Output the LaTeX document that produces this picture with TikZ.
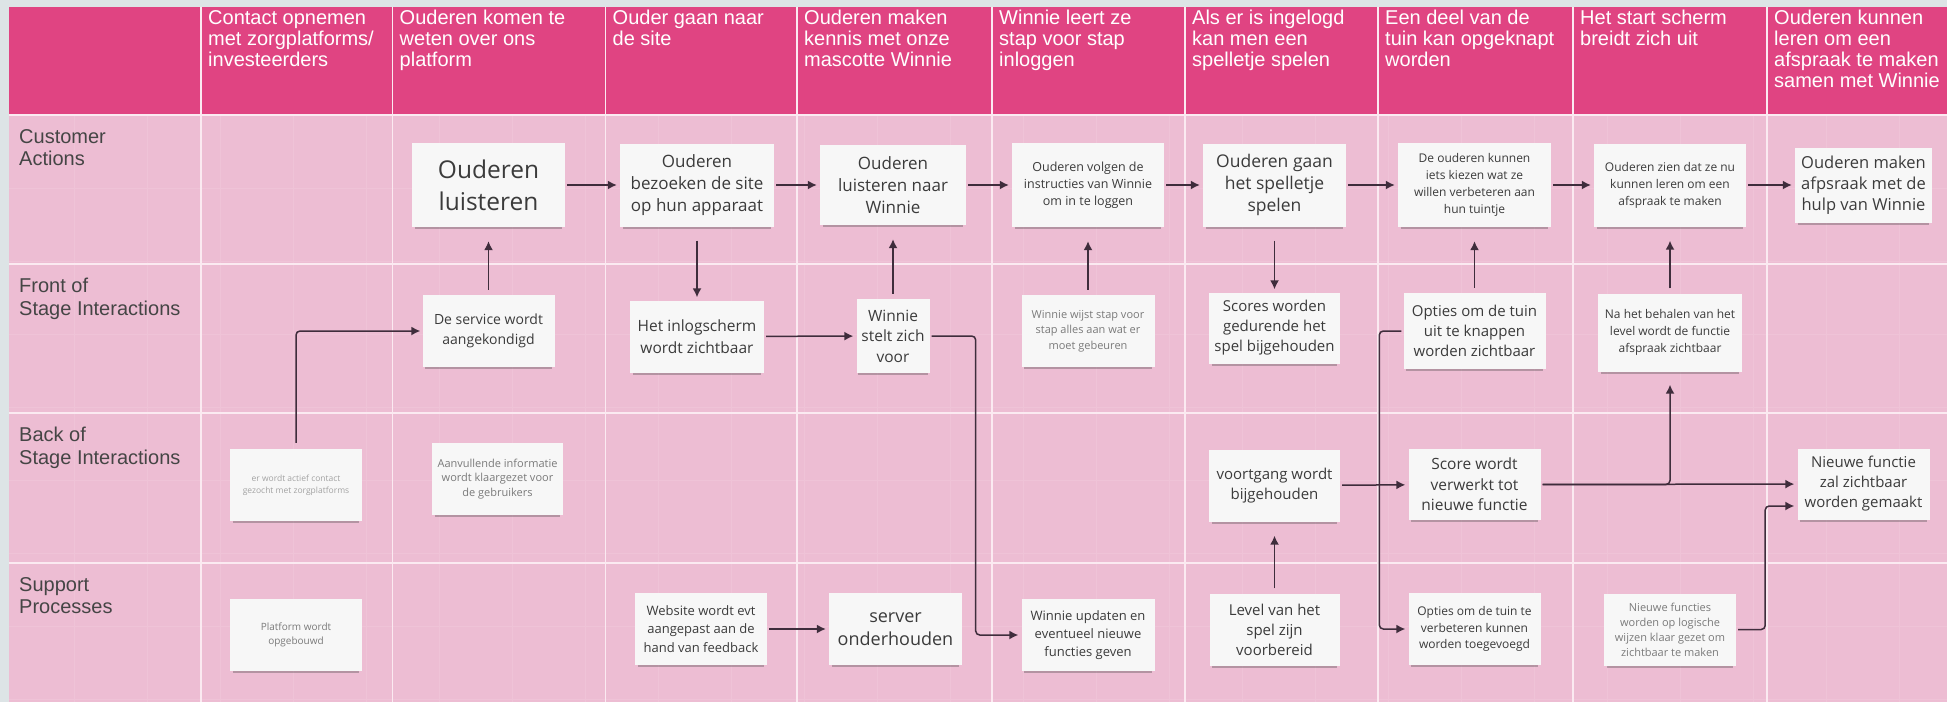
\documentclass[tikz,border=0pt]{standalone}
\usepackage{fontspec}
\setmainfont{Open Sans}
\newfontfamily\arialfont{Liberation Sans}
\usetikzlibrary{shapes,arrows.meta,shadows,positioning}

\definecolor{boardgray}{HTML}{DDE4E6}
\definecolor{headpink}{HTML}{E04482}
\definecolor{lanepink}{HTML}{EDBDD3}
\definecolor{lanewhite}{HTML}{FBEAF1}
\definecolor{gridpink}{HTML}{EFC3D7}
\definecolor{notefill}{HTML}{F7F7F7}
\definecolor{notetext}{HTML}{3B3B3B}
\definecolor{softtext}{HTML}{7A7A7A}
\definecolor{labeltext}{HTML}{454545}
\definecolor{flowcol}{HTML}{3F2D3C}

\newcommand{\setfs}[2]{\fontsize{#1pt}{#2pt}\selectfont}

\tikzstyle{note} = [rectangle, fill=notefill, text=notetext, align=center,
    inner sep=0pt, minimum width=132pt, minimum height=72pt,
    drop shadow={shadow xshift=0pt, shadow yshift=-4pt, shadow scale=0.96,
    fill=black!80, opacity=0.3}]
\tikzstyle{bignote} = [note, minimum width=152pt, minimum height=83pt]
\tikzstyle{softnote} = [note, text=softtext]
\tikzstyle{headtext} = [anchor=north west, align=left, inner sep=0pt,
    text=white, font=\arialfont\setfs{20}{21}]
\tikzstyle{lanelabel} = [anchor=north west, align=left, inner sep=0pt,
    text=labeltext, font=\arialfont\setfs{20}{22.7}]
\tikzstyle{flow} = [draw=flowcol, line width=1.5pt, ->, rounded corners=4pt]
\tikzstyle{hflow} = [flow, shorten <=2pt, shorten >=3pt]
\tikzstyle{upflow} = [flow, shorten <=5pt, shorten >=14pt]
\tikzstyle{downflow} = [flow, shorten <=14pt, shorten >=3pt]
\tikzstyle{laneline} = [draw=lanewhite, line width=1.8pt]
\tikzstyle{gridline} = [draw=gridpink, line width=0.6pt]

\begin{document}
\begin{tikzpicture}[x=1pt, y=-1pt, node distance=147pt,
    >={Latex[length=9pt, width=9pt]}]
    % The board and its lanes
    \useasboundingbox (0,0) rectangle (1947,702);
    \fill[boardgray] (0,0) rectangle (1947,702);
    \fill[lanepink] (9,7) rectangle (1947,702);
    \fill[headpink] (9,7) rectangle (1947,115);
    \foreach \gx in {74,147,...,1947}
        \draw[gridline] (\gx,116) -- (\gx,702);
    \foreach \gy in {188,261,...,702}
        \draw[gridline] (9,\gy) -- (1947,\gy);
    \foreach \ly in {115,264,413,563}
        \draw[laneline] (9,\ly) -- (1947,\ly);
    \foreach \lx in {201,392.5,605.5,797,992,1185,1378,1573,1767}
        \draw[laneline] (\lx,7) -- (\lx,702);

    % Phases along the top
    \foreach \hx/\htxt [count=\i] in {
        201/{Contact opnemen\\met zorgplatforms/\\investeerders},
        392.5/{Ouderen komen te\\weten over ons\\platform},
        605.5/{Ouder gaan naar\\de site},
        797/{Ouderen maken\\kennis met onze\\mascotte Winnie},
        992/{Winnie leert ze\\stap voor stap\\inloggen},
        1185/{Als er is ingelogd\\kan men een\\spelletje spelen},
        1378/{Een deel van de\\tuin kan opgeknapt\\worden},
        1573/{Het start scherm\\breidt zich uit},
        1767/{Ouderen kunnen\\leren om een\\afspraak te maken\\samen met Winnie}} {
        \node[headtext] (head\i) at (\hx+7,10) {\htxt};
    }

    % Lane names
    \node[lanelabel] (lane1) at (19,129) {Customer\\Actions};
    \node[lanelabel] (lane2) at (19,278) {Front of\\Stage Interactions};
    \node[lanelabel] (lane3) at (19,427) {Back of\\Stage Interactions};
    \node[lanelabel] (lane4) at (19,577) {Support\\Processes};

    % Customer actions, placed from left to right
    \node[bignote, minimum width=153pt, minimum height=84pt,
        font=\setfs{24.5}{32}] (luist) at (488.5,185) {Ouderen\\luisteren};
    \node[bignote, minimum width=154pt, node distance=208.5pt, right of=luist,
        font=\setfs{17}{22}] (bezoek) {Ouderen\\bezoeken de site\\op hun apparaat};
    \node[bignote, minimum width=146pt, minimum height=80pt, node distance=196pt,
        right of=bezoek, font=\setfs{17}{22}] (winnie) {Ouderen\\luisteren naar\\Winnie};
    \node[bignote, minimum height=84pt, node distance=195pt, right of=winnie,
        font=\setfs{12.5}{17}] (volgen) {Ouderen volgen de\\instructies van Winnie\\om in te loggen};
    \node[bignote, minimum width=143pt, node distance=186.5pt, right of=volgen,
        font=\setfs{17.5}{22}] (gaan) {Ouderen gaan\\het spelletje\\spelen};
    \node[bignote, minimum width=153pt, minimum height=84pt, node distance=200pt,
        right of=gaan, font=\setfs{12}{17}] (kiezen)
        {De ouderen kunnen\\iets kiezen wat ze\\willen verbeteren aan\\hun tuintje};
    \node[bignote, node distance=195.5pt, right of=kiezen,
        font=\setfs{12}{17}] (zien) {Ouderen zien dat ze nu\\kunnen leren om een\\afspraak te maken};
    \node[note, minimum width=137pt, minimum height=75pt, node distance=193.5pt,
        right of=zien, font=\setfs{16.5}{21}] (maken) {Ouderen maken\\afpsraak met de\\hulp van Winnie};

    % Front of stage
    \node[note, node distance=146pt, below of=luist, font=\setfs{14}{20}] (service)
        {De service wordt\\aangekondigd};
    \node[note, minimum width=134pt, node distance=151.5pt, below of=bezoek,
        font=\setfs{15.5}{21.5}] (inlog) {Het inlogscherm\\wordt zichtbaar};
    \node[note, minimum width=73pt, minimum height=74pt, node distance=151pt,
        below of=winnie, font=\setfs{15.5}{20.5}] (stelt) {Winnie\\stelt zich\\voor};
    \node[softnote, minimum width=133pt, node distance=146pt, below of=volgen,
        font=\setfs{11}{15.5}] (wijst) {Winnie wijst stap voor\\stap alles aan wat er\\moet gebeuren};
    \node[note, minimum width=131pt, minimum height=71pt, node distance=143pt,
        below of=gaan, font=\setfs{15}{20}] (scores) {Scores worden\\gedurende het\\spel bijgehouden};
    \node[note, minimum width=142pt, minimum height=76pt, node distance=146pt,
        below of=kiezen, font=\setfs{15}{20}] (knappen) {Opties om de tuin\\uit te knappen\\worden zichtbaar};
    \node[note, minimum width=144pt, minimum height=78pt, node distance=147.5pt,
        below of=zien, font=\setfs{12}{17}] (behalen)
        {Na het behalen van het\\level wordt de functie\\afspraak zichtbaar};

    % Back of stage
    \node[note, text=softtext!70, font=\setfs{8.5}{11.7}] (actief) at (296,485)
        {er wordt actief contact\\gezocht met zorgplatforms};
    \node[softnote, minimum width=131pt, font=\setfs{11}{14.7}] (aanvul) at (497.5,479)
        {Aanvullende informatie\\wordt klaargezet voor\\de gebruikers};
    \node[note, minimum width=131pt, node distance=157.5pt, below of=scores,
        font=\setfs{15}{20}] (voortgang) {voortgang wordt\\bijgehouden};
    \node[note, minimum height=71pt, node distance=153.5pt, below of=knappen,
        font=\setfs{15.5}{20.5}] (verwerkt) {Score wordt\\verwerkt tot\\nieuwe functie};
    \node[note, minimum height=71pt, node distance=299pt, below of=maken,
        font=\setfs{15}{20}] (zalzicht) {Nieuwe functie\\zal zichtbaar\\worden gemaakt};

    % Support processes
    \node[softnote, node distance=150pt, below of=actief, font=\setfs{10}{13.3}] (platform)
        {Platform wordt\\opgebouwd};
    \node[note, font=\setfs{13}{18.3}] (website) at (701,629)
        {Website wordt evt\\aangepast aan de\\hand van feedback};
    \node[note, minimum width=133pt, node distance=194.5pt, right of=website,
        font=\setfs{18}{23.5}] (server) {server\\onderhouden};
    \node[note, minimum width=133pt, node distance=304pt, below of=wijst,
        font=\setfs{13}{18.3}] (updaten) {Winnie updaten en\\eventueel nieuwe\\functies geven};
    \node[note, minimum width=130pt, node distance=144pt, below of=voortgang,
        font=\setfs{15}{20}] (level) {Level van het\\spel zijn\\voorbereid};
    \node[note, node distance=144.5pt, below of=verwerkt, font=\setfs{12}{16.7}] (verbeteren)
        {Opties om de tuin te\\verbeteren kunnen\\worden toegevoegd};
    \node[softnote, node distance=297pt, below of=behalen, font=\setfs{11}{15}] (logisch)
        {Nieuwe functies\\worden op logische\\wijzen klaar gezet om\\zichtbaar te maken};
    \coordinate (zalin) at ([yshift=-22pt]zalzicht.west);

    % Connectors between the notes
    \draw[hflow] (luist) -- (bezoek);
    \draw[hflow] (bezoek) -- (winnie);
    \draw[hflow] (winnie) -- (volgen);
    \draw[hflow] (volgen) -- (gaan);
    \draw[hflow] (gaan) -- (kiezen);
    \draw[hflow] (kiezen) -- (zien);
    \draw[hflow] (zien) -- (maken);
    \draw[upflow] (service) -- (luist);
    \draw[downflow] (bezoek) -- (inlog);
    \draw[hflow] (inlog) -- (stelt);
    \draw[upflow] (stelt) -- (winnie);
    \draw[upflow] (wijst) -- (volgen);
    \draw[downflow] (gaan) -- (scores);
    \draw[upflow] (knappen) -- (kiezen);
    \draw[upflow] (behalen) -- (zien);
    \draw[flow, shorten <=6pt, shorten >=2pt] (actief.north) |- (service.west);
    \draw[hflow] (stelt.east) -- ++(46,0) |- (updaten.west);
    \draw[hflow] (knappen.west) -- ++(-24,0) |- (verbeteren.west);
    \draw[hflow] (website) -- (server);
    \draw[upflow] (level) -- (voortgang);
    \draw[hflow] (voortgang) -- (verwerkt);
    \draw[hflow] (verwerkt) -- (zalzicht);
    \draw[flow, shorten <=2pt, shorten >=13pt] (verwerkt.east) -| (behalen.south);
    \draw[hflow] (logisch.east) -- ++(29,0) |- (zalin);
\end{tikzpicture}
\end{document}
